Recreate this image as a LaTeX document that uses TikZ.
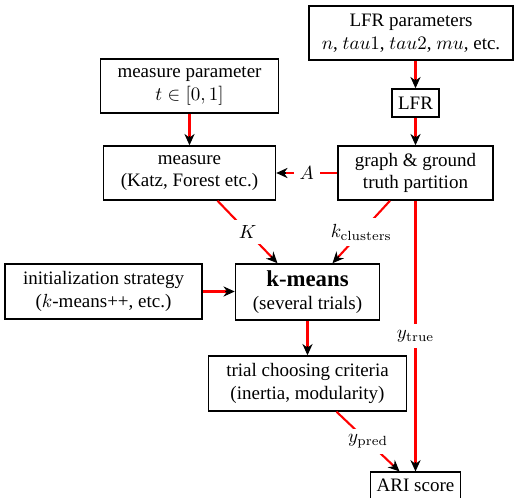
\documentclass[tikz,border=0pt]{standalone}
\usepackage[no-math]{fontspec}
\setmainfont{Liberation Serif}
\usetikzlibrary{arrows.meta,calc}
\newcommand\linkab[3]{%
  \draw[wire] (#1) -- #3 (#2);
  \draw[tipst] ($(#2)!5pt!(#1)$) -- (#2);}
\begin{document}
\begin{tikzpicture}[x=0.5263pt,y=-0.5263pt,
 box/.style={draw=black,line width=0.8pt,align=center,inner sep=1pt,font=\fontsize{10}{12}\selectfont},
 wire/.style={draw=red,line width=1.1pt,shorten >=3pt},
 tipst/.style={draw=black,fill=black,line width=0.6pt,-{Stealth[length=6pt,width=5.4pt,inset=2pt]}},
 lab/.style={fill=white,text=black,inner sep=3pt,font=\fontsize{10}{12}\selectfont}]
\useasboundingbox (0,0) rectangle (514,498);
\node[box,minimum width=107.4pt,minimum height=28.4pt] (lfrp) at (411,33) {LFR parameters\\$n$, $tau1$, $tau2$, $mu$, etc.};
\node[box,minimum width=24.7pt,minimum height=14.7pt] (lfr) at (415.5,103) {LFR};
\node[box,minimum width=93.7pt,minimum height=28.4pt] (mparam) at (189.5,86) {measure parameter\\$t\in[0,1]$};
\node[box,minimum width=90.5pt,minimum height=28.4pt] (measure) at (189.5,173) {measure\\(Katz, Forest etc.)};
\node[box,minimum width=81.6pt,minimum height=28.4pt] (graph) at (415.5,173) {graph \& ground\\truth partition};
\node[box,minimum width=103.7pt,minimum height=28.9pt] (init) at (103.5,291.5) {initialization strategy\\($k$-means++, etc.)};
\node[box,minimum width=75.8pt,minimum height=29.5pt] (kmeans) at (307.5,292) {{\large\bfseries k-means}\\(several trials)};
\node[box,minimum width=104.2pt,minimum height=28.9pt] (trial) at (307.5,383.5) {trial choosing criteria\\(inertia, modularity)};
\node[box,minimum width=47.4pt,minimum height=14pt] (ari) at (415.5,485.5) {ARI score};

\coordinate (lfrpS) at (lfrp.south -| lfr);
\coordinate (measS) at ($(measure.south)+(28,0)$);
\coordinate (kmN1) at ($(kmeans.north)+(-30,0)$);
\coordinate (graphS) at ($(graph.south)+(-25.5,0)$);
\coordinate (kmN2) at ($(kmeans.north)+(25,0)$);
\coordinate (kmW) at (init.east -| kmeans.west);
\coordinate (trialS) at ($(trial.south)+(29,0)$);
\coordinate (ariN) at ($(ari.north)+(-16,0)$);

\linkab{lfrpS}{lfr.north}{}
\linkab{lfr.south}{graph.north}{}
\linkab{mparam.south}{measure.north}{}
\linkab{graph.west}{measure.east}{node[lab]{$A$}}
\linkab{measS}{kmN1}{node[lab]{$K$}}
\linkab{graphS}{kmN2}{node[lab]{$k_{\mathrm{clusters}}$}}
\linkab{init.east}{kmW}{}
\linkab{kmeans.south}{trial.north}{}
\linkab{graph.south}{ari.north}{node[lab]{$y_{\mathrm{true}}$}}
\linkab{trialS}{ariN}{node[lab]{$y_{\mathrm{pred}}$}}
\end{tikzpicture}
\end{document}
